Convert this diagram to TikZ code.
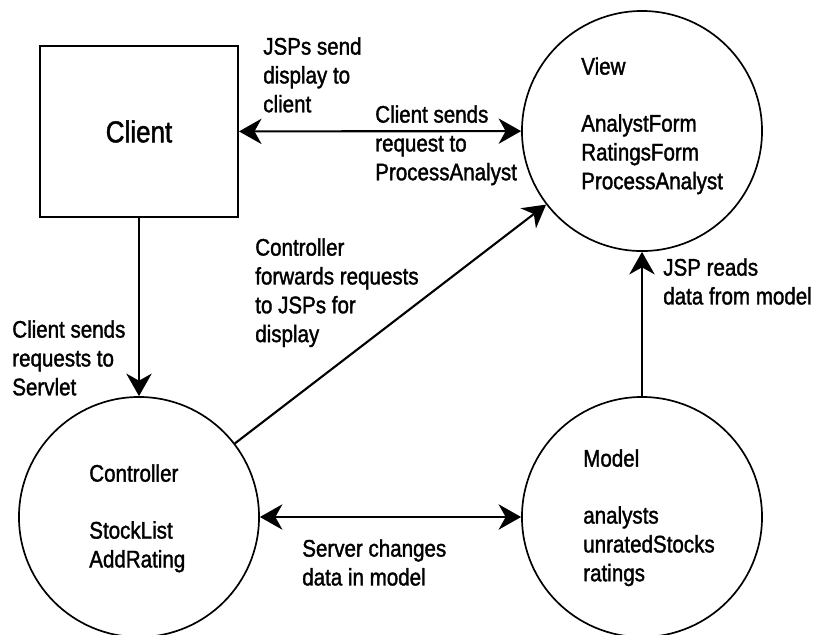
\documentclass[tikz,border=0pt]{standalone}
\usepackage{fontspec}
\setmainfont{Liberation Sans}[FakeStretch=0.86, UprightFeatures={FakeBold=1.5}]
\usepackage{tikz}
\usetikzlibrary{arrows.meta}
\tikzset{
  quadro/.style={draw, line width=1.4pt, minimum width=4.95cm, minimum height=4.275cm, inner sep=0pt, font=\fontsize{21.5}{26}\selectfont},
  circulo/.style={draw, circle, line width=1.2pt, minimum size=6cm, inner sep=0pt},
  texto/.style={anchor=north west, align=left, inner sep=0pt, font=\fontsize{17}{20.5}\selectfont},
  seta/.style={line width=1.5pt, >={Stealth[length=16pt, width=18pt, inset=5pt]}},
}

\begin{document}
\begin{tikzpicture}[x=0.025cm, y=-0.025cm]
  \useasboundingbox (0,0) rectangle (818,634);
  % client
  \node[quadro] (cliente) at (139,131.5) {Client};
  % view
  \node[circulo] (vista) at (642,131) {};
  \node[texto] (txtvista) at (581,57) {View\\[20pt]AnalystForm\\RatingsForm\\ProcessAnalyst};
  % controller
  \node[circulo] (controlador) at (139,517) {};
  \node[texto] (txtcontrolador) at (89,464) {Controller\\[20pt]StockList\\AddRating};
  % model
  \node[circulo] (modelo) at (642,517) {};
  \node[texto] (txtmodelo) at (583,449) {Model\\[20pt]analysts\\unratedStocks\\ratings};
  % connectors
  \draw[seta, <->] (cliente) -- (vista);
  \draw[seta, ->] (cliente) -- (controlador);
  \draw[seta, ->] (controlador) -- (vista);
  \draw[seta, <->] (controlador) -- (modelo);
  \draw[seta, ->] (modelo) -- (vista);
  % labels
  \node[texto] (rotulo1) at (263,37) {JSPs send\\display to\\client};
  \node[texto] (rotulo2) at (375,105) {Client sends\\request to\\ProcessAnalyst};
  \node[texto] (rotulo3) at (255,238) {Controller\\forwards requests\\to JSPs for\\display};
  \node[texto] (rotulo4) at (12,320) {Client sends\\requests to\\Servlet};
  \node[texto] (rotulo5) at (663,258) {JSP reads\\data from model};
  \node[texto] (rotulo6) at (302,539) {Server changes\\data in model};
\end{tikzpicture}
\end{document}
